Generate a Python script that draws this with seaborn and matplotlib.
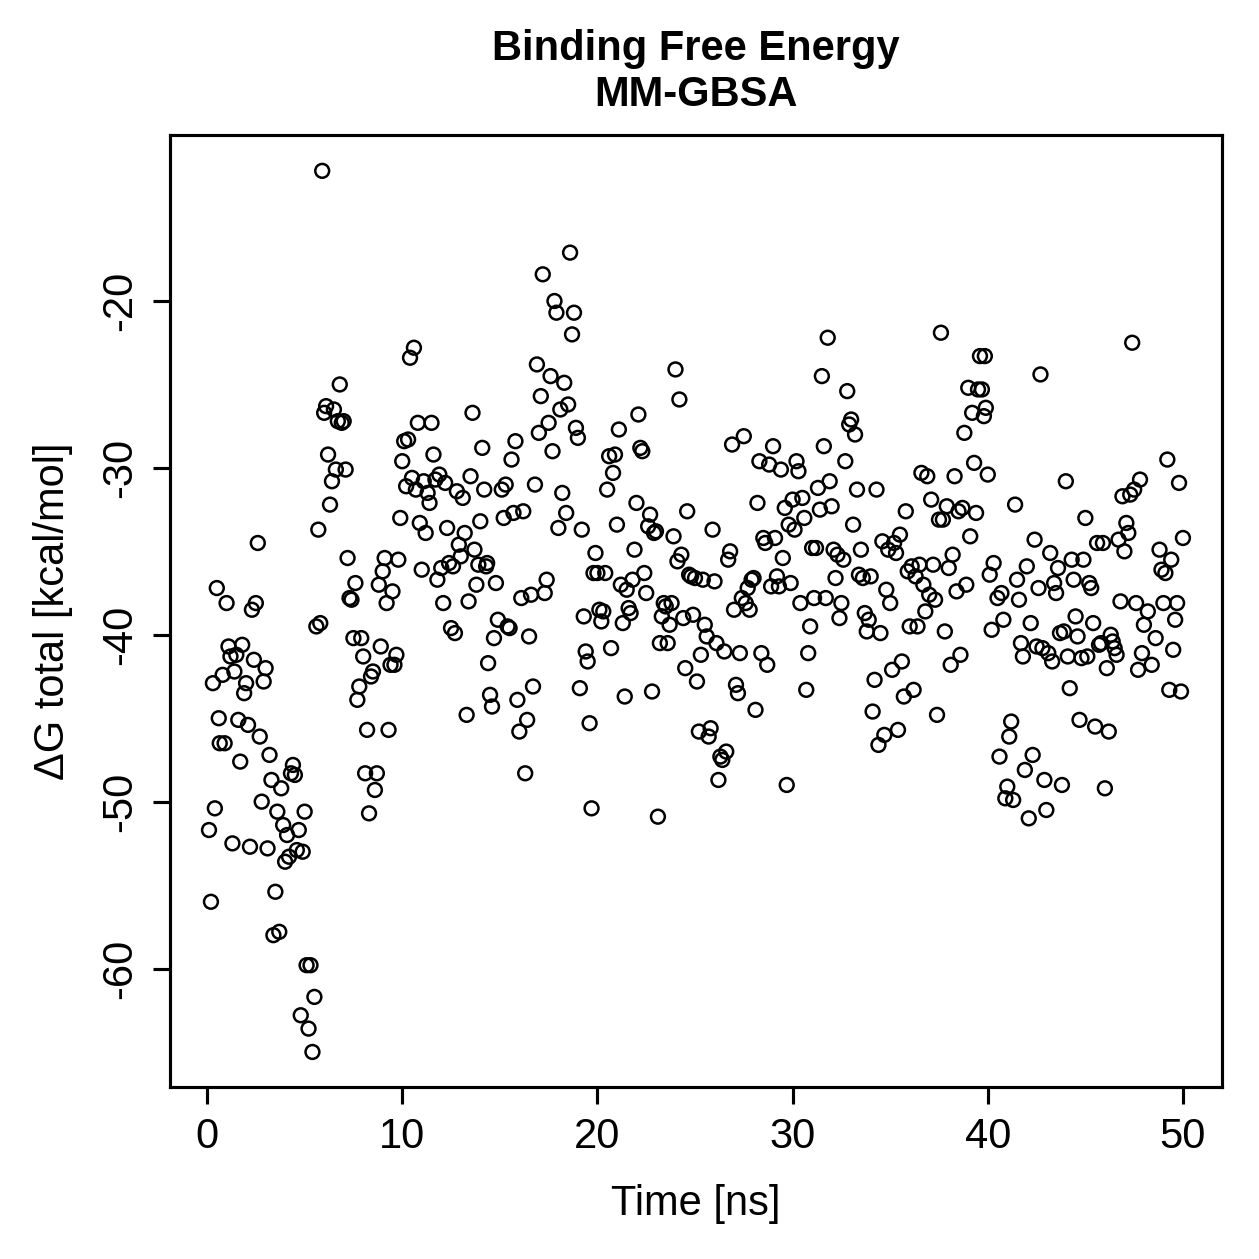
import numpy as np
import pandas as pd
import matplotlib
matplotlib.use("Agg")
import matplotlib.pyplot as plt
import seaborn as sns

# values (time in ns, dG in kcal/mol)
time_ns = [
    0.1, 0.2, 0.3, 0.4, 0.5, 0.6, 0.65, 0.8, 0.9, 1.0, 1.1, 1.2, 1.3, 1.4, 1.5, 1.6, 1.7, 1.8, 1.9, 2.0,
    2.1, 2.2, 2.3, 2.4, 2.5, 2.6, 2.7, 2.8, 2.9, 3.0, 3.1, 3.2, 3.3, 3.4, 3.5, 3.6, 3.7, 3.8, 3.9, 4.0,
    4.1, 4.2, 4.3, 4.4, 4.5, 4.6, 4.7, 4.8, 4.9, 5.0, 5.1, 5.2, 5.3, 5.4, 5.5, 5.6, 5.7, 5.8, 5.9, 6.0,
    6.1, 6.2, 6.3, 6.4, 6.5, 6.6, 6.7, 6.8, 6.9, 7.0, 7.1, 7.2, 7.3, 7.4, 7.5, 7.6, 7.7, 7.8, 7.9, 8.0,
    8.1, 8.2, 8.3, 8.4, 8.5, 8.6, 8.7, 8.8, 8.9, 9.0, 9.1, 9.2, 9.3, 9.4, 9.5, 9.6, 9.7, 9.8, 9.9, 10.0,
    10.1, 10.2, 10.3, 10.4, 10.5, 10.6, 10.7, 10.8, 10.9, 11.0, 11.1, 11.2, 11.3, 11.4, 11.5, 11.6, 11.7, 11.8, 11.9, 12.0,
    12.1, 12.2, 12.3, 12.4, 12.5, 12.6, 12.7, 12.8, 12.9, 13.0, 13.1, 13.2, 13.3, 13.4, 13.5, 13.6, 13.7, 13.8, 13.9, 14.0,
    14.1, 14.2, 14.3, 14.35, 14.4, 14.5, 14.6, 14.7, 14.8, 14.9, 15.1, 15.2, 15.3, 15.4, 15.5, 15.6, 15.7, 15.8, 15.9, 16.0,
    16.1, 16.2, 16.3, 16.4, 16.5, 16.6, 16.7, 16.8, 16.9, 17.0, 17.1, 17.2, 17.3, 17.4, 17.5, 17.6, 17.7, 17.8, 17.9, 18.0,
    18.1, 18.2, 18.3, 18.4, 18.5, 18.6, 18.7, 18.8, 18.9, 19.0, 19.1, 19.2, 19.3, 19.4, 19.5, 19.6, 19.7, 19.8, 19.9, 20.0,
    20.1, 20.2, 20.3, 20.4, 20.5, 20.6, 20.7, 20.8, 20.9, 21.0, 21.1, 21.2, 21.3, 21.4, 21.5, 21.6, 21.7, 21.8, 21.9, 22.0,
    22.1, 22.2, 22.3, 22.4, 22.5, 22.6, 22.7, 22.8, 22.9, 23.0, 23.1, 23.2, 23.3, 23.4, 23.5, 23.6, 23.7, 23.8, 23.9, 24.0,
    24.1, 24.2, 24.3, 24.4, 24.5, 24.6, 24.7, 24.8, 24.9, 25.0, 25.1, 25.2, 25.3, 25.4, 25.5, 25.6, 25.7, 25.8, 25.9, 26.0,
    26.1, 26.2, 26.3, 26.4, 26.5, 26.6, 26.7, 26.8, 26.9, 27.0, 27.1, 27.2, 27.3, 27.4, 27.5, 27.6, 27.7, 27.8, 27.9, 28.0,
    28.1, 28.2, 28.3, 28.4, 28.5, 28.6, 28.7, 28.8, 28.9, 29.0, 29.1, 29.2, 29.3, 29.4, 29.5, 29.6, 29.7, 29.8, 29.9, 30.0,
    30.1, 30.2, 30.3, 30.4, 30.5, 30.6, 30.7, 30.8, 30.9, 31.0, 31.1, 31.2, 31.3, 31.4, 31.5, 31.6, 31.7, 31.8, 31.9, 32.0,
    32.1, 32.2, 32.3, 32.4, 32.5, 32.6, 32.7, 32.8, 32.9, 33.0, 33.1, 33.2, 33.3, 33.4, 33.5, 33.6, 33.7, 33.8, 33.9, 34.0,
    34.1, 34.2, 34.3, 34.4, 34.5, 34.6, 34.7, 34.8, 34.9, 35.0, 35.1, 35.2, 35.3, 35.4, 35.5, 35.6, 35.7, 35.8, 35.9, 36.0,
    36.1, 36.2, 36.3, 36.4, 36.5, 36.6, 36.7, 36.8, 36.9, 37.0, 37.1, 37.2, 37.3, 37.4, 37.5, 37.6, 37.7, 37.8, 37.9, 38.0,
    38.1, 38.2, 38.3, 38.4, 38.5, 38.6, 38.7, 38.8, 38.9, 39.0, 39.1, 39.2, 39.3, 39.4, 39.5, 39.6, 39.7, 39.8, 39.85, 39.9,
    40.0, 40.1, 40.2, 40.3, 40.5, 40.6, 40.7, 40.8, 40.9, 41.0, 41.1, 41.2, 41.3, 41.4, 41.5, 41.6, 41.7, 41.8, 41.9, 42.0,
    42.1, 42.2, 42.3, 42.4, 42.5, 42.6, 42.7, 42.8, 42.9, 43.0, 43.1, 43.2, 43.3, 43.4, 43.5, 43.6, 43.7, 43.8, 43.9, 44.0,
    44.1, 44.2, 44.3, 44.4, 44.5, 44.6, 44.7, 44.8, 44.9, 45.0, 45.1, 45.2, 45.3, 45.4, 45.5, 45.6, 45.7, 45.8, 45.9, 46.0,
    46.1, 46.2, 46.3, 46.4, 46.5, 46.6, 46.7, 46.8, 46.9, 47.0, 47.1, 47.2, 47.3, 47.4, 47.5, 47.6, 47.7, 47.8, 47.9, 48.0,
    48.2, 48.4, 48.6, 48.8, 48.9, 49.0, 49.1, 49.2, 49.3, 49.4, 49.5, 49.6, 49.7, 49.8, 49.9, 50.0,
]

dg_total = [
    -51.7, -56.0, -42.9, -50.4, -37.2, -45.0, -46.5, -42.4, -46.5, -38.1, -40.7, -41.3, -52.5, -42.2, -41.2, -45.1, -47.6, -40.6, -43.5, -42.9,
    -45.4, -52.7, -38.5, -41.5, -38.1, -34.5, -46.1, -50.0, -42.8, -42.0, -52.8, -47.2, -48.7, -58.0, -55.4, -50.6, -57.8, -49.2, -51.4, -53.6,
    -52.0, -53.3, -48.3, -47.8, -48.4, -52.9, -51.7, -62.8, -53.0, -50.6, -59.8, -63.6, -59.8, -65.0, -61.7, -39.5, -33.7, -39.3, -12.2, -26.7,
    -26.3, -29.2, -32.2, -30.8, -26.5, -30.1, -27.2, -25.0, -27.3, -27.2, -30.1, -35.4, -37.8, -37.9, -40.2, -36.9, -43.9, -43.1, -40.2, -41.3,
    -48.3, -45.7, -50.7, -42.5, -42.2, -49.3, -48.3, -37.0, -40.7, -36.2, -35.4, -38.1, -45.7, -41.8, -37.4, -41.8, -41.2, -35.5, -33.0, -29.6,
    -28.4, -31.1, -28.3, -23.4, -30.6, -22.8, -31.3, -27.3, -33.3, -36.1, -30.8, -33.9, -31.5, -32.1, -27.3, -29.2, -30.7, -36.7, -30.4, -36.0,
    -38.1, -30.9, -33.6, -35.7, -39.6, -35.9, -39.9, -31.4, -34.6, -35.3, -31.8, -33.9, -44.8, -38.0, -30.5, -26.7, -34.9, -37.0, -35.8, -33.2,
    -28.8, -31.3, -35.9, -35.7, -41.7, -43.6, -44.3, -40.2, -36.9, -39.1, -31.3, -33.0, -31.0, -39.5, -39.6, -29.5, -32.7, -28.4, -43.9, -45.8,
    -37.8, -32.6, -48.3, -45.1, -40.1, -37.6, -43.1, -31.0, -23.8, -27.9, -25.7, -18.4, -37.5, -36.7, -27.3, -24.5, -29.0, -20.0, -20.7, -33.6,
    -26.5, -31.5, -24.9, -32.7, -26.2, -17.1, -22.0, -20.7, -27.6, -28.2, -43.2, -33.7, -38.9, -41.0, -41.6, -45.3, -50.4, -36.3, -35.1, -36.3,
    -38.5, -39.2, -38.6, -36.3, -31.3, -29.3, -40.8, -30.3, -29.2, -33.4, -27.7, -37.0, -39.3, -43.7, -37.3, -38.4, -38.7, -36.7, -34.9, -32.1,
    -26.8, -28.8, -29.0, -36.3, -37.5, -33.5, -32.8, -43.4, -33.9, -33.8, -50.9, -40.5, -38.9, -38.1, -38.3, -40.5, -39.4, -38.1, -34.1, -24.1,
    -35.6, -25.9, -35.2, -39.0, -42.0, -32.6, -36.4, -36.5, -38.8, -36.6, -42.8, -45.8, -41.2, -36.7, -39.4, -40.1, -46.1, -45.6, -33.7, -36.8,
    -40.5, -48.7, -47.3, -47.5, -41.0, -47.0, -35.5, -35.0, -28.6, -38.5, -43.0, -43.5, -41.1, -37.8, -28.1, -38.1, -37.2, -38.5, -36.7, -36.6,
    -44.5, -32.1, -29.6, -41.1, -34.2, -34.5, -41.8, -29.8, -37.1, -28.7, -34.2, -36.5, -37.1, -30.1, -35.4, -32.4, -49.0, -33.4, -36.9, -31.9,
    -33.7, -29.6, -30.2, -38.1, -31.8, -33.0, -43.3, -41.1, -39.5, -34.8, -37.8, -34.8, -31.2, -32.5, -24.5, -28.7, -37.8, -22.2, -30.8, -32.3,
    -34.9, -36.6, -35.2, -39.0, -38.1, -35.5, -29.6, -25.4, -27.4, -27.1, -33.4, -28.0, -31.3, -36.4, -34.9, -36.6, -38.7, -39.8, -39.1, -36.5,
    -44.6, -42.7, -31.3, -46.6, -39.9, -34.4, -46.0, -37.3, -34.9, -38.1, -42.1, -34.5, -35.1, -45.7, -34.0, -41.6, -43.7, -32.6, -36.2, -39.5,
    -35.9, -43.3, -36.5, -39.5, -35.8, -30.3, -37.0, -38.6, -30.5, -37.6, -31.9, -35.8, -37.9, -44.8, -33.1, -21.9, -33.1, -39.8, -32.3, -36.0,
    -41.8, -35.2, -30.5, -37.4, -32.6, -41.2, -32.4, -27.9, -37.0, -25.2, -34.1, -26.7, -29.7, -32.7, -25.3, -23.3, -25.3, -26.9, -23.3, -26.4,
    -30.4, -36.4, -39.7, -35.7, -37.8, -47.3, -37.5, -39.1, -49.8, -49.1, -46.1, -45.2, -49.9, -32.2, -36.7, -37.9, -40.5, -41.3, -48.1, -35.9,
    -51.0, -39.3, -47.2, -34.3, -40.7, -37.2, -24.4, -40.8, -48.7, -50.5, -41.1, -35.1, -41.6, -36.9, -37.5, -36.0, -39.9, -49.0, -39.8, -30.8,
    -41.3, -43.2, -35.5, -36.7, -38.9, -40.1, -45.1, -41.4, -35.5, -33.0, -41.3, -36.9, -37.2, -39.3, -45.5, -34.5, -40.6, -40.5, -34.5, -49.2,
    -42.0, -45.8, -40.0, -40.4, -40.8, -41.2, -34.3, -38.0, -31.7, -35.0, -33.3, -33.9, -31.6, -22.5, -31.3, -38.1, -42.1, -30.7, -41.1, -39.4,
    -38.6, -41.8, -40.2, -34.9, -36.1, -38.1, -36.3, -29.5, -43.3, -35.5, -40.9, -39.1, -38.1, -30.9, -43.4, -34.2,
]

x_ticks = [0, 10, 20, 30, 40, 50]
y_ticks = [-60, -50, -40, -30, -20]

df = pd.DataFrame({"Time": time_ns, "dG": dg_total})

sns.set_style("ticks")
plt.rcParams["font.family"] = ["Liberation Sans", "DejaVu Sans"]
plt.rcParams["text.color"] = "black"
plt.rcParams["axes.labelcolor"] = "black"

fig = plt.figure(figsize=(1259 / 300, 1259 / 300), dpi=300)
ax = fig.add_axes([0.135, 0.1366, 0.8356, 0.7562])

sns.scatterplot(data=df, x="Time", y="dG", ax=ax, marker="o", s=11,
                facecolor="none", edgecolor="black", linewidth=0.6)

ax.set_xlim(-1.9, 52.0)
ax.set_ylim(-67.1, -10.05)
ax.set_xticks(x_ticks)
ax.set_yticks(y_ticks)
ax.set_yticklabels([str(v) for v in y_ticks], rotation=90, va="center")
ax.tick_params(axis="both", direction="out", length=4.1, width=0.75,
               labelsize=10, color="black", labelcolor="black", pad=3)

for sp in ax.spines.values():
    sp.set_visible(True)
    sp.set_linewidth(0.75)
    sp.set_color("black")

ax.set_xlabel("Time [ns]", fontsize=10, labelpad=6.5, color="black")
ax.set_ylabel("ΔG total [kcal/mol]", fontsize=10, labelpad=6.5, color="black")
ax.set_title("Binding Free Energy\nMM-GBSA", fontsize=10, fontweight="bold",
             pad=7, linespacing=1.2, color="black")

fig.savefig("out.png", dpi=300)
